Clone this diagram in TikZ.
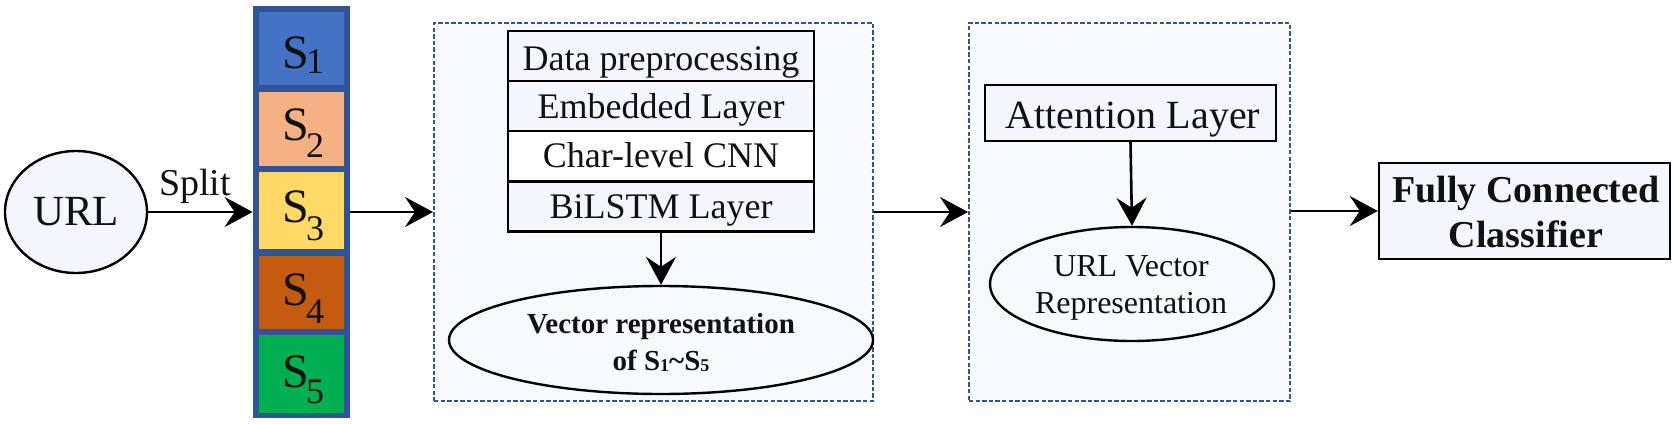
\documentclass[tikz,border=0pt]{standalone}
\usepackage{fontspec}
\setmainfont{Liberation Serif}
\usetikzlibrary{arrows.meta,shapes.geometric}
\definecolor{stackborder}{HTML}{2F5597}
\definecolor{sone}{HTML}{4472C4}
\definecolor{stwo}{HTML}{F4B183}
\definecolor{sthree}{HTML}{FFD966}
\definecolor{sfour}{HTML}{C55A11}
\definecolor{sfive}{HTML}{00B050}
\definecolor{panel}{HTML}{F7F9FD}
\definecolor{lightfill}{HTML}{F3F6FC}
\definecolor{dashblue}{HTML}{2F5597}
\definecolor{inkcol}{HTML}{111111}
\newcommand{\fs}[1]{\fontsize{#1}{#1}\selectfont}
\newcommand{\scell}[2]{{\fs{24pt}S}\kern-1.5pt\raisebox{-#2}{\fs{18pt}#1}}
\tikzset{
  panelbox/.style={draw=dashblue, line width=1pt, dash pattern=on 2.2pt off 1.1pt, fill=panel, inner sep=0pt},
  cellbox/.style={draw=none, inner sep=0pt, minimum width=42.5pt},
  rowbox/.style={draw=black, line width=1.1pt, inner sep=0pt, minimum width=153pt, minimum height=25pt},
  ellbox/.style={ellipse, draw=black, line width=1.2pt, fill=panel, inner sep=0pt},
  plainbox/.style={draw=black, line width=1.2pt, inner sep=0pt},
  txt/.style={anchor=base, inner sep=0pt, text=inkcol},
  arr/.style={-{Stealth[length=14pt,width=15pt,inset=5pt]}, line width=1.3pt, draw=black}
}
\begin{document}
\begin{tikzpicture}[x=0.5pt,y=-0.5pt]
\useasboundingbox (0,0) rectangle (1674,423);
% panels
\node[panelbox, minimum width=219.5pt, minimum height=189pt] (box1) at (653.5,212) {};
\node[panelbox, minimum width=160.5pt, minimum height=189pt] (box2) at (1129.5,212) {};
% URL
\node[ellbox, fill=lightfill, minimum width=71pt, minimum height=61pt, font=\fs{21.5pt}, text=inkcol] (url) at (76,212) {URL};
\node[txt, font=\fs{19pt}] (split) at (195,195) {Split};
% stack
\node[draw=none, fill=stackborder, inner sep=0pt, minimum width=48.5pt, minimum height=206pt] (stack) at (301.5,212) {};
\node[cellbox, fill=sone, minimum height=36.5pt] (c1) at (301.5,48.5) {};
\node[cellbox, fill=stwo, minimum height=37pt] (c2) at (301.5,129) {};
\node[cellbox, fill=sthree, minimum height=38.5pt] (c3) at (301.5,210.5) {};
\node[cellbox, fill=sfour, minimum height=36.5pt] (c4) at (301.5,292.5) {};
\node[cellbox, fill=sfive, minimum height=39pt] (c5) at (301.5,374) {};
\node[txt, anchor=base west] (s1) at (282,68) {\scell{1}{2.5pt}};
\node[txt, anchor=base west] (s2) at (282,140) {\scell{2}{8.5pt}};
\node[txt, anchor=base west] (s3) at (282,222) {\scell{3}{9pt}};
\node[txt, anchor=base west] (s4) at (282,305) {\scell{4}{9pt}};
\node[txt, anchor=base west] (s5) at (282,387) {\scell{5}{8pt}};
% rows in box1
\node[rowbox, fill=lightfill] (r1) at (661,56) {};
\node[rowbox, fill=lightfill] (r2) at (661,106) {};
\node[rowbox, fill=white] (r3) at (661,156) {};
\node[rowbox, fill=lightfill] (r4) at (661,206.5) {};
\node[txt, font=\fs{18pt}] (t1) at (661,70) {Data preprocessing};
\node[txt, font=\fs{18pt}] (t2) at (661,118) {Embedded Layer};
\node[txt, font=\fs{18pt}] (t3) at (661,167) {Char-level CNN};
\node[txt, font=\fs{18pt}] (t4) at (661,218) {BiLSTM Layer};
\node[ellbox, minimum width=212pt, minimum height=54pt] (vec) at (661,340) {};
\node[txt, font=\bfseries\fs{14.5pt}] (v1) at (661,333) {Vector representation};
\node[txt, font=\bfseries\fs{14.5pt}] (v2) at (661,370) {of S\raisebox{-0.5pt}{\fs{9pt}1}{\char"7E}S\raisebox{-0.5pt}{\fs{9pt}5}};
% box2 content
\node[plainbox, fill=lightfill, minimum width=145.5pt, minimum height=28pt] (att) at (1130.5,113) {};
\node[txt, font=\fs{20pt}] (at) at (1133,128) {Attention Layer};
\node[ellbox, minimum width=142pt, minimum height=57pt] (uvr) at (1132,284) {};
\node[txt, font=\fs{16pt}] (u1) at (1131,276) {URL Vector};
\node[txt, font=\fs{16pt}] (u2) at (1131,313) {Representation};
% classifier
\node[plainbox, fill=lightfill, minimum width=145.5pt, minimum height=48pt] (fc) at (1524.5,211) {};
\node[txt, font=\bfseries\fs{19pt}] (f1) at (1526,202) {Fully Connected};
\node[txt, font=\bfseries\fs{19pt}] (f2) at (1526,247) {Classifier};
% connectors
\draw[arr] (url) -- (stack);
\draw[arr] (stack) -- (box1);
\draw[arr] (r4.south) -- (vec.north);
\draw[arr] (box1) -- (box2);
\draw[arr] (att.south) -- (uvr.north);
\draw[arr] (box2.east |- fc.west) -- (fc.west);
\end{tikzpicture}
\end{document}
